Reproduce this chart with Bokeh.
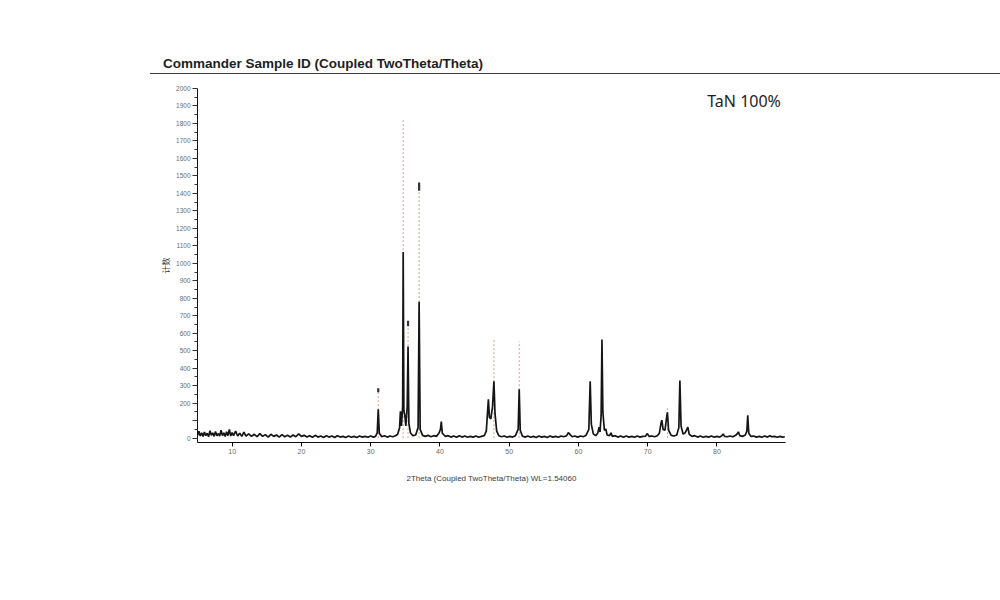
from bokeh.plotting import figure
from bokeh.models import Range1d, Label, FixedTicker, Div
from bokeh.layouts import column
from bokeh.embed import file_html
from bokeh.resources import INLINE

title_text = "Commander Sample ID (Coupled TwoTheta/Theta)"
sample_label = "TaN 100%"
x_label = "2Theta (Coupled TwoTheta/Theta) WL=1.54060"
y_label = "计数"

x_ticks = [10, 20, 30, 40, 50, 60, 70, 80]
y_ticks = list(range(0, 2001, 100))
y_minor = list(range(50, 2000, 100))
y_tick_labels = {t: ("" if t == 100 else str(t)) for t in y_ticks}

two_theta = [
    5.0, 5.2, 5.4, 5.6, 5.8, 6.0, 6.2, 6.4, 6.6, 6.8, 7.0, 7.2, 7.4, 7.6, 7.8, 8.0,
    8.2, 8.4, 8.6, 8.8, 9.0, 9.2, 9.4, 9.6, 9.8, 10.0, 10.2, 10.5, 10.8, 11.1, 11.4,
    11.7, 12.0, 12.4, 12.8, 13.2, 13.6, 14.0, 14.4, 14.8, 15.2, 15.6, 16.0, 16.4,
    16.8, 17.2, 17.6, 18.0, 18.4, 18.8, 19.2, 19.6, 20.0, 20.4, 20.8, 21.2, 21.6,
    22.0, 22.4, 22.8, 23.2, 23.6, 24.0, 24.4, 24.8, 25.2, 25.6, 26.0, 26.4, 26.8,
    27.2, 27.6, 28.0, 28.4, 28.8, 29.2, 29.6, 30.0, 30.4,
    30.7, 30.95, 31.1, 31.25, 31.6, 32.0, 32.4, 32.8, 33.2, 33.6, 33.9, 34.18, 34.3,
    34.45, 34.62, 34.7, 34.8, 34.95, 35.08, 35.28, 35.4, 35.52, 35.75, 36.1, 36.5,
    36.85, 37.0, 37.15, 37.5, 37.9, 38.3, 38.7, 39.1, 39.5, 39.85, 40.08, 40.2, 40.35,
    40.8, 41.2, 41.6, 42.0, 42.4, 42.8, 43.2, 43.6, 44.0, 44.4, 44.8, 45.2, 45.6,
    46.0, 46.4, 46.7, 46.9, 47.0, 47.15, 47.35, 47.6, 47.8, 47.96, 48.2, 48.5,
    48.9, 49.3, 49.7, 50.1, 50.5, 50.9, 51.3, 51.45, 51.6, 51.9,
    52.3, 52.7, 53.1, 53.5, 53.9, 54.3, 54.7, 55.1, 55.5, 55.9, 56.3, 56.7, 57.1,
    57.5, 57.9, 58.3, 58.55, 58.8, 59.1, 59.5, 59.9, 60.3, 60.7, 61.1, 61.5, 61.7,
    61.86, 62.15, 62.5, 62.8, 62.98, 63.12, 63.28, 63.4, 63.53, 63.75, 63.95, 64.15,
    64.5, 64.7, 64.9, 65.3, 65.7, 66.1, 66.5, 66.9, 67.3, 67.7, 68.1, 68.5, 68.9,
    69.3, 69.7, 69.95, 70.2, 70.6, 71.0, 71.4, 71.7, 71.92, 72.05, 72.22, 72.5, 72.72,
    72.85, 73.02, 73.4, 73.8, 74.2, 74.5, 74.65, 74.82, 75.1, 75.4, 75.6, 75.8,
    76.0, 76.4, 76.8, 77.2, 77.6, 78.0, 78.4, 78.8, 79.2, 79.6, 80.0, 80.4, 80.7,
    80.9, 81.1, 81.5, 81.9, 82.3, 82.7, 82.95, 83.1, 83.3, 83.7, 84.1, 84.32, 84.45,
    84.6, 84.9, 85.3, 85.7, 86.1, 86.5, 86.9, 87.3, 87.65, 87.9, 88.3, 88.7, 89.1,
    89.5, 89.8,
]
counts = [
    15, 40, 12, 30, 10, 35, 14, 28, 8, 42, 16, 30, 10, 38, 14, 26,
    12, 45, 15, 30, 10, 36, 14, 50, 12, 32, 14, 40, 12, 28, 10,
    34, 12, 24, 10, 22, 8, 26, 10, 20, 6, 22, 10, 18,
    6, 20, 8, 16, 6, 18, 8, 24, 10, 16, 6, 14, 5,
    16, 6, 12, 4, 14, 6, 12, 4, 14, 6, 10, 4, 12,
    5, 10, 4, 12, 6, 10, 5, 12, 6,
    10, 30, 165, 28, 8, 14, 6, 12, 8, 14, 22, 60, 154,
    70, 180, 1065, 160, 125, 70, 180, 524, 85, 30, 14, 18,
    60, 780, 50, 16, 10, 16, 8, 14, 10, 28, 50, 95, 28,
    10, 14, 6, 12, 5, 14, 6, 12, 5, 10, 6, 12, 5,
    10, 14, 40, 160, 222, 120, 110, 180, 325, 140, 40, 14,
    8, 12, 5, 10, 6, 14, 50, 279, 45, 12,
    6, 12, 5, 10, 4, 12, 6, 10, 4, 12, 6, 10, 5,
    12, 8, 14, 32, 20, 8, 12, 6, 12, 8, 16, 50, 325,
    80, 24, 14, 30, 63, 35, 130, 564, 150, 45, 52, 18,
    14, 30, 10, 14, 6, 12, 5, 12, 6, 10, 5, 12, 6,
    10, 12, 26, 10, 12, 8, 14, 30, 85, 103, 50, 45, 115,
    148, 45, 16, 12, 18, 60, 330, 70, 24, 30, 45, 63,
    22, 10, 14, 6, 12, 5, 10, 6, 12, 5, 10, 6, 14,
    24, 10, 8, 12, 8, 16, 26, 36, 14, 10, 18, 40, 131,
    28, 10, 12, 6, 10, 5, 12, 6, 14, 8, 10, 5, 10,
    6, 8,
]

# reference pattern sticks (2theta, relative counts)
ref_pos = [31.1, 34.7, 35.4, 37.0, 47.8, 51.45, 72.85]
ref_int = [280, 1829, 667, 1459, 564, 553, 175]
# dark end marks on top of some sticks
cap_pos = [31.1, 35.4, 37.0]
cap_lo = [262, 640, 1415]
cap_hi = [285, 672, 1462]

# ---------- heading with rule ----------
header_html = (
    '<div style="position:relative;width:1000px;height:80px;margin:0;padding:0;">'
    '<span style="position:absolute;left:163px;top:56px;line-height:16px;white-space:nowrap;'
    "font-family:'Liberation Sans';font-weight:bold;font-size:13.5px;color:#1e1e1e;\">"
    + title_text +
    '</span>'
    '<div style="position:absolute;left:150px;top:73px;width:850px;height:0;'
    'border-top:1.6px solid #3a3a3a;"></div>'
    '</div>'
)
header = Div(text=header_html, width=1000, height=80, margin=(0, 0, 0, 0))

# ---------- main plot ----------
p = figure(width=984, height=504, x_range=Range1d(5.0, 89.9), y_range=Range1d(-25, 2000),
           output_backend="svg", toolbar_location=None, margin=(0, 0, 0, 0),
           min_border_left=197, min_border_right=199, min_border_top=8, min_border_bottom=142)
p.grid.visible = False
p.outline_line_color = None

p.segment(x0=ref_pos, y0=[0] * len(ref_pos), x1=ref_pos, y1=ref_int,
          line_color="#e59a8c", line_width=1, line_dash="2 2")
p.segment(x0=cap_pos, y0=cap_lo, x1=cap_pos, y1=cap_hi, line_color="#333333", line_width=2.2)
p.line(two_theta, counts, line_color="#151515", line_width=1.7)

p.add_layout(Label(x=78.6, y=1931, text=sample_label, text_font="Noto Sans",
                   text_font_size="16px", text_baseline="middle", text_color="#1e1e1e"))

xa = p.xaxis[0]
xa.ticker = FixedTicker(ticks=x_ticks)
xa.axis_line_color = "#111111"
xa.major_tick_in = 0
xa.major_tick_out = 4
xa.minor_tick_line_color = None
xa.major_label_standoff = 2
xa.major_label_text_font = "Liberation Sans"
xa.major_label_text_font_size = "7px"
xa.major_label_text_color = "#6a6a6a"
xa.axis_label = x_label
xa.axis_label_text_font = "Liberation Sans"
xa.axis_label_text_font_size = "8px"
xa.axis_label_text_font_style = "normal"
xa.axis_label_text_color = "#3c3c3c"
xa.axis_label_standoff = 17

ya = p.yaxis[0]
ya.ticker = FixedTicker(ticks=y_ticks, minor_ticks=y_minor)
ya.major_label_overrides = y_tick_labels
ya.axis_line_color = "#111111"
ya.major_tick_in = 0
ya.major_tick_out = 5
ya.minor_tick_in = 0
ya.minor_tick_out = 3
ya.major_tick_line_color = "#333333"
ya.minor_tick_line_color = "#333333"
ya.major_label_standoff = 2
ya.major_label_text_font = "Liberation Sans"
ya.major_label_text_font_size = "6.5px"
ya.major_label_text_color = "#6a6a6a"
ya.axis_label = y_label
ya.axis_label_text_font = "Noto Sans CJK SC"
ya.axis_label_text_font_size = "8px"
ya.axis_label_text_font_style = "normal"
ya.axis_label_text_color = "#3c3c3c"
ya.axis_label_standoff = 2

layout = column(header, p, spacing=0)
open("out.html", "w").write(file_html(layout, INLINE))
